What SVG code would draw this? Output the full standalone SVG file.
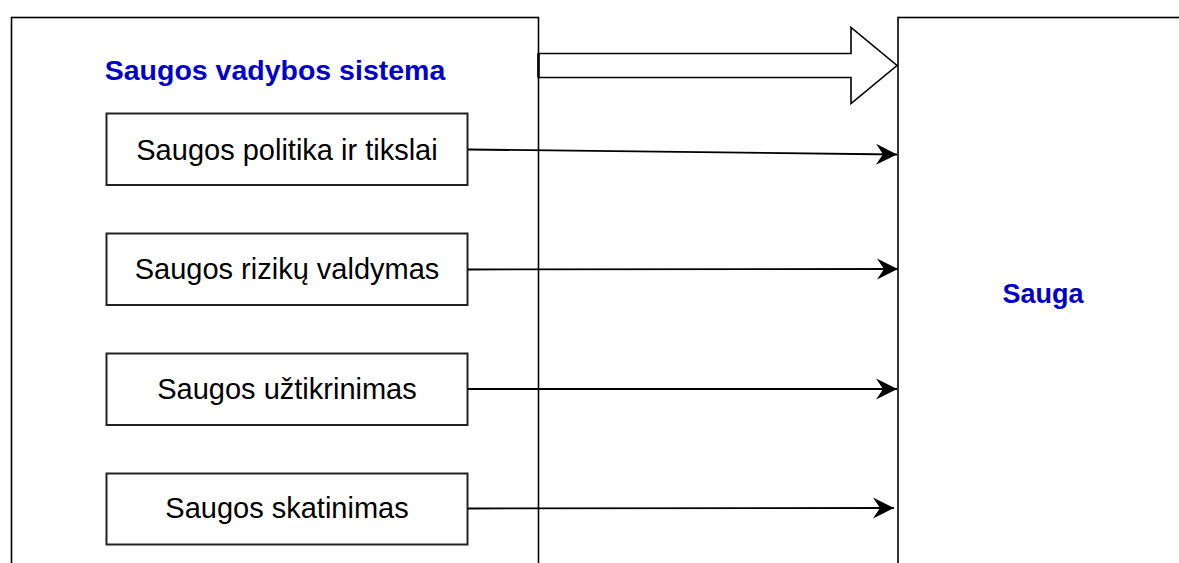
<svg xmlns="http://www.w3.org/2000/svg" width="1179" height="563" viewBox="0 0 1179 563">
<style>
.box{fill:#fff;stroke:#000;stroke-width:1.6}
.inner{fill:#fff;stroke:#222;stroke-width:2}
.title{font-family:"Liberation Sans",Arial,sans-serif;font-weight:bold;fill:#0000CC;text-anchor:middle}
.lbl{font-family:"Liberation Sans",Arial,sans-serif;font-size:29px;fill:#000;text-anchor:middle}
.conn{fill:none;stroke:#000;stroke-width:1.8}
</style>
<defs>
<marker id="arr" markerUnits="userSpaceOnUse" markerWidth="24" markerHeight="24" viewBox="-22 -11 24 22" refX="0" refY="0" orient="auto">
<path d="M0,0 L-21,-10.5 L-14,0 L-21,10.5 Z" fill="#000"/>
</marker>
</defs>
<g id="sauga">
<rect class="box" x="898" y="17.5" width="300" height="600"/>
<text class="title" x="1043" y="303" font-size="27">Sauga</text>
</g>
<g id="svs">
<rect class="box" x="11.5" y="17.5" width="527" height="600"/>
<text class="title" x="275" y="80" font-size="28.5">Saugos vadybos sistema</text>
</g>
<g id="n1">
<rect class="inner" x="106.5" y="113.5" width="361" height="71.5"/>
<text class="lbl" x="287" y="160">Saugos politika ir tikslai</text>
</g>
<g id="n2">
<rect class="inner" x="106.5" y="233.5" width="361" height="71.5"/>
<text class="lbl" x="287" y="279">Saugos rizikų valdymas</text>
</g>
<g id="n3">
<rect class="inner" x="106.5" y="353.5" width="361" height="71.5"/>
<text class="lbl" x="287" y="399">Saugos užtikrinimas</text>
</g>
<g id="n4">
<rect class="inner" x="106.5" y="473.5" width="361" height="71"/>
<text class="lbl" x="287" y="518">Saugos skatinimas</text>
</g>
<g id="connectors">
<path d="M538.5,53.5 L851,53.5 L851,27.5 L897,65.5 L851,103.5 L851,77.5 L538.5,77.5 Z" fill="#fff" stroke="#000" stroke-width="1.6" stroke-linejoin="miter"/>
<line x1="538.5" y1="53.5" x2="538.5" y2="77.5" stroke="#000" stroke-width="2.5"/>
<line class="conn" x1="468" y1="149.5" x2="897" y2="154.5" marker-end="url(#arr)"/>
<line class="conn" x1="468" y1="269.5" x2="898" y2="269" marker-end="url(#arr)"/>
<line class="conn" x1="468" y1="389" x2="897" y2="389" marker-end="url(#arr)"/>
<line class="conn" x1="468" y1="508.5" x2="894" y2="508" marker-end="url(#arr)"/>
</g>
</svg>
